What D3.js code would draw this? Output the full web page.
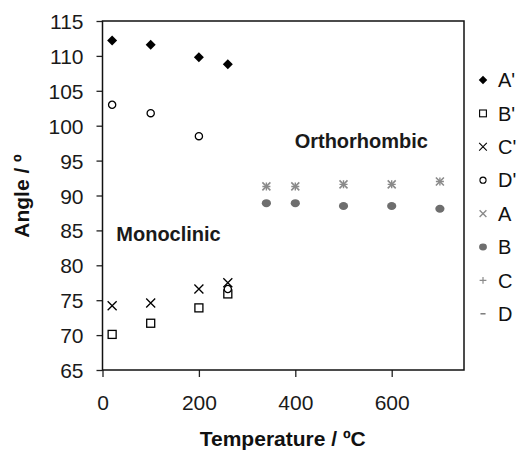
<!DOCTYPE html>
<html>
<head>
<meta charset="utf-8">
<script src="https://cdn.jsdelivr.net/npm/d3@7/dist/d3.min.js"></script>
<style>
  html, body { margin: 0; padding: 0; background: #fff; }
  svg { display: block; font-family: "Liberation Sans", Arial, sans-serif; }
</style>
</head>
<body>
<svg id="chart" width="518" height="452"></svg>
<script>
// Lattice angles vs temperature
const tempMono = [20, 100, 200, 260];
const tempOrtho = [340, 400, 500, 600, 700];

const seriesAprime = [112.2, 111.6, 109.8, 108.8];
const seriesBprime = [70.1, 71.7, 73.9, 75.9];
const seriesCprime = [74.2, 74.6, 76.6, 77.5];
const seriesDprime = [103.0, 101.8, 98.5, 76.6];
const seriesA = [91.3, 91.3, 91.6, 91.6, 92.0];
const seriesB = [88.9, 88.9, 88.5, 88.5, 88.1];
const seriesC = [91.3, 91.3, 91.6, 91.6, 92.0];
const seriesD = [88.9, 88.9, 88.5, 88.5, 88.1];

const legendNames = ["A'", "B'", "C'", "D'", "A", "B", "C", "D"];
const xTicks = [0, 200, 400, 600];
const yTicks = [65, 70, 75, 80, 85, 90, 95, 100, 105, 110, 115];

const svg = d3.select("#chart");
const plot = { left: 102.5, right: 464, top: 21, bottom: 370 };

const x = d3.scaleLinear().domain([0, 750]).range([plot.left, plot.right]);
const y = d3.scaleLinear().domain([65, 115]).range([plot.bottom, plot.top]);

const gray = "#6e6e6e";
const lightGray = "#8a8a8a";

// marker painters, each drawn centred on (0,0)
const markers = {
  "A'": g => g.append("path").attr("d", "M0,-5L5,0L0,5L-5,0Z").attr("fill", "#000"),
  "B'": g => g.append("rect").attr("x", -4).attr("y", -4).attr("width", 8).attr("height", 8)
              .attr("fill", "#fff").attr("stroke", "#000").attr("stroke-width", 1.3),
  "C'": g => g.append("path").attr("d", "M-4.5,-4.5L4.5,4.5M-4.5,4.5L4.5,-4.5")
              .attr("stroke", "#000").attr("stroke-width", 1.3).attr("fill", "none"),
  "D'": g => g.append("circle").attr("r", 3.6).attr("fill", "#fff")
              .attr("stroke", "#000").attr("stroke-width", 1.3),
  "A": g => g.append("path").attr("d", "M-4,-4L4,4M-4,4L4,-4")
              .attr("stroke", lightGray).attr("stroke-width", 1.6).attr("fill", "none"),
  "B": g => g.append("ellipse").attr("rx", 4.6).attr("ry", 4).attr("fill", gray),
  "C": g => g.append("path").attr("d", "M-4,0L4,0M0,-4L0,4")
              .attr("stroke", lightGray).attr("stroke-width", 1.4).attr("fill", "none"),
  "D": g => g.append("path").attr("d", "M-3,0L3,0")
              .attr("stroke", gray).attr("stroke-width", 1.6).attr("fill", "none")
};

const series = [
  { name: "A'", t: tempMono, v: seriesAprime },
  { name: "B'", t: tempMono, v: seriesBprime },
  { name: "C'", t: tempMono, v: seriesCprime },
  { name: "D'", t: tempMono, v: seriesDprime },
  { name: "D", t: tempOrtho, v: seriesD },
  { name: "B", t: tempOrtho, v: seriesB },
  { name: "C", t: tempOrtho, v: seriesC },
  { name: "A", t: tempOrtho, v: seriesA }
];

// axes
const xAxis = svg.append("g")
  .attr("transform", `translate(0,${plot.bottom})`)
  .call(d3.axisBottom(x).tickValues(xTicks).tickSize(7).tickPadding(18).tickSizeOuter(0));
const yAxis = svg.append("g")
  .attr("transform", `translate(${plot.left},0)`)
  .call(d3.axisLeft(y).tickValues(yTicks).tickSize(6).tickPadding(13).tickSizeOuter(0));

[xAxis, yAxis].forEach(a => {
  a.select(".domain").remove();
  a.selectAll("line").attr("stroke", "#222").attr("stroke-width", 1.3);
  a.selectAll("text").attr("font-size", 21).attr("fill", "#1a1a1a")
    .attr("font-family", "Liberation Sans, Arial, sans-serif");
});
yAxis.selectAll("text").attr("dy", "0.36em");

// frame
svg.append("rect")
  .attr("x", plot.left).attr("y", plot.top)
  .attr("width", plot.right - plot.left).attr("height", plot.bottom - plot.top)
  .attr("fill", "none").attr("stroke", "#111").attr("stroke-width", 1.5);

// data points
series.forEach(s => {
  s.t.forEach((t, i) => {
    const g = svg.append("g").attr("transform", `translate(${x(t)},${y(s.v[i])})`);
    markers[s.name](g);
  });
});

// phase labels
svg.append("text").attr("x", x(137)).attr("y", y(83.5))
  .attr("text-anchor", "middle").attr("font-weight", "bold").attr("font-size", 20)
  .attr("fill", "#1a1a1a").text("Monoclinic");
svg.append("text").attr("x", x(537)).attr("y", y(96.8))
  .attr("text-anchor", "middle").attr("font-weight", "bold").attr("font-size", 20)
  .attr("fill", "#1a1a1a").text("Orthorhombic");

// axis titles
svg.append("text").attr("x", (plot.left + plot.right) / 2 - 0.5).attr("y", 446)
  .attr("text-anchor", "middle").attr("font-weight", "bold").attr("font-size", 21)
  .attr("fill", "#111").text("Temperature / ºC");
svg.append("text").attr("transform", "translate(29,196) rotate(-90)")
  .attr("text-anchor", "middle").attr("font-weight", "bold").attr("font-size", 21)
  .attr("fill", "#111").text("Angle / º");

// legend
const legend = svg.append("g");
legendNames.forEach((name, i) => {
  const row = legend.append("g").attr("transform", `translate(483,${80 + i * 33.4})`);
  const m = row.append("g").attr("transform", "scale(0.85)");
  markers[name](m);
  row.append("text").attr("x", 15).attr("dy", "0.36em").attr("font-size", 20)
    .attr("fill", "#111").text(name);
});
</script>
</body>
</html>
